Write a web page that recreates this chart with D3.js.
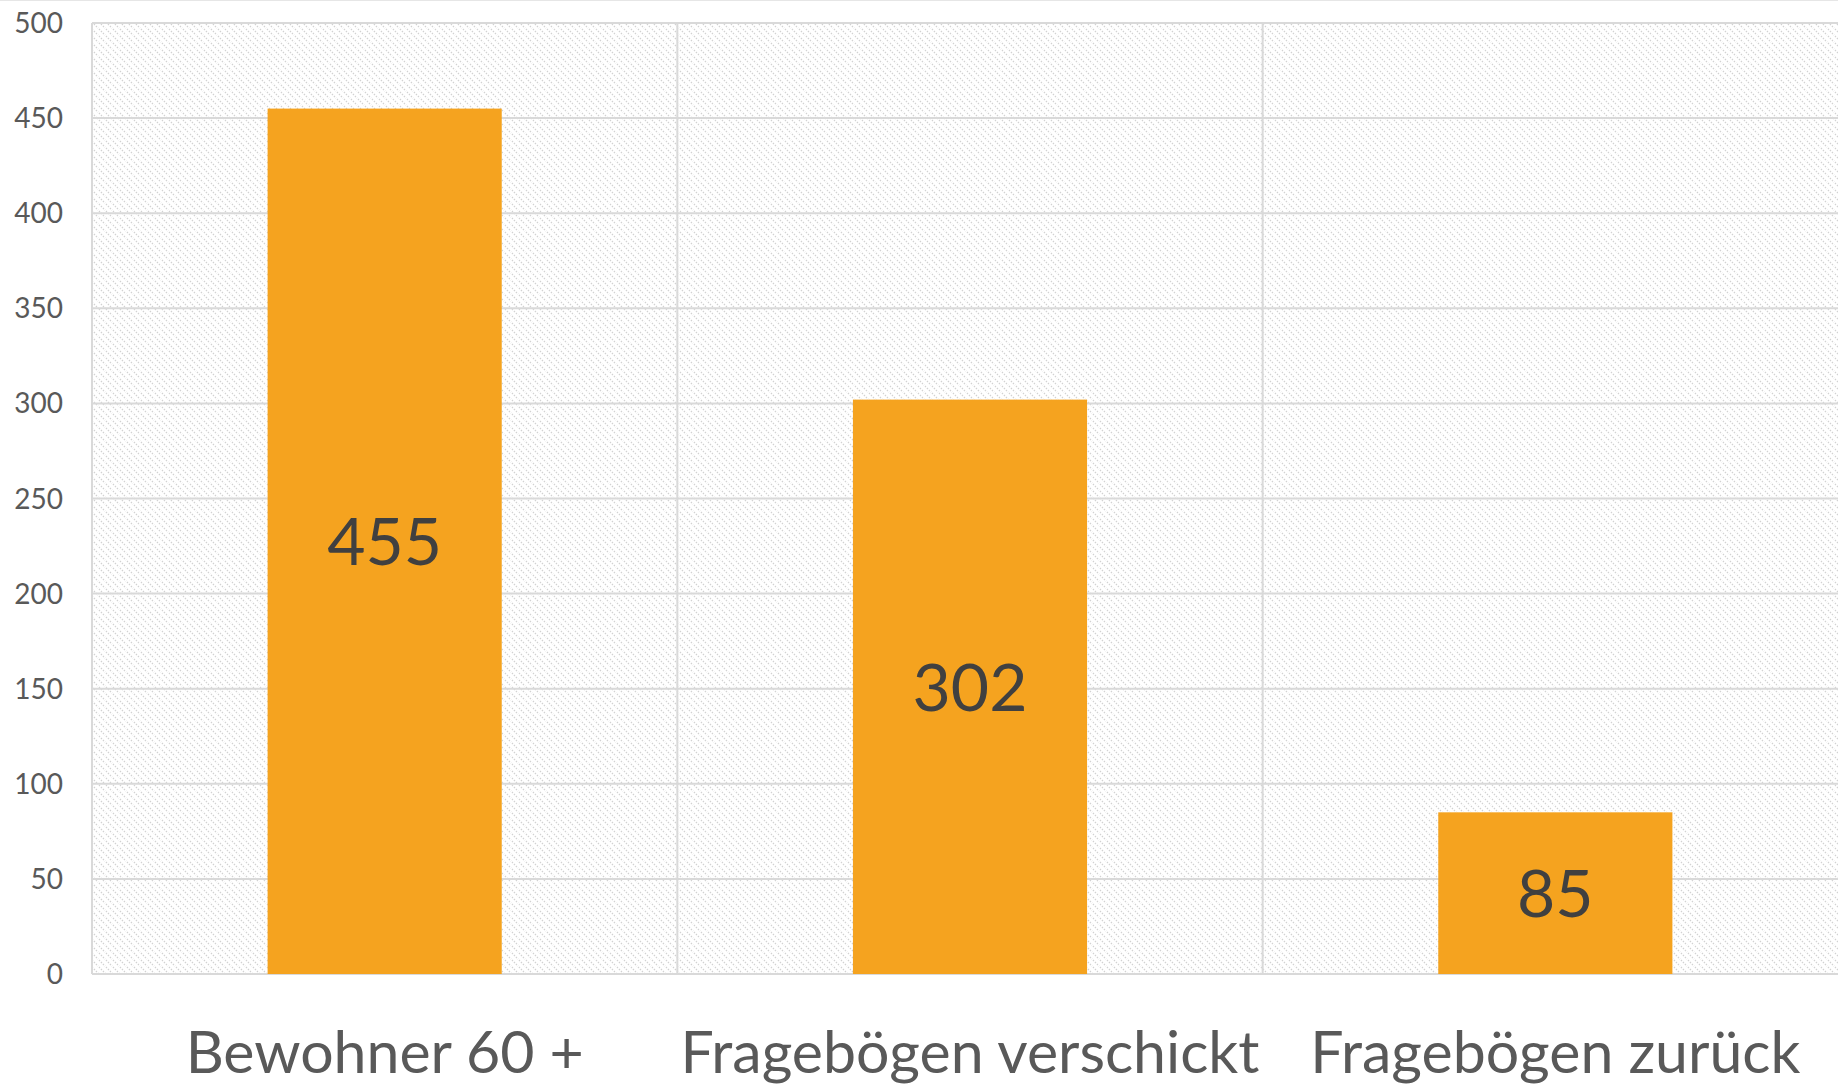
<!DOCTYPE html>
<html>
<head>
<meta charset="utf-8">
<script src="https://cdn.jsdelivr.net/npm/d3@7"></script>
<style>
  body { margin: 0; background: #fff; }
  svg { display: block; font-family: Lato, "Open Sans", sans-serif; }
</style>
</head>
<body>
<div id="chart"></div>
<script>
const categories = ["Bewohner 60 +", "Fragebögen verschickt", "Fragebögen zurück"];
const values = [455, 302, 85];
const yTicks = [0, 50, 100, 150, 200, 250, 300, 350, 400, 450, 500];

const width = 1838, height = 1087;
const margin = { top: 23, right: -10, bottom: 113, left: 92 };

const svg = d3.select("#chart")
  .append("svg")
  .attr("width", width)
  .attr("height", height);

// diagonal hatch (top-left to bottom-right) for the plot area
const defs = svg.append("defs");
const pat = defs.append("pattern")
  .attr("id", "hatch")
  .attr("patternUnits", "userSpaceOnUse")
  .attr("width", 7)
  .attr("height", 7);
pat.append("path")
  .attr("d", "M-1,-1 L8,8 M-1,6 L1,8 M6,-1 L8,1")
  .attr("stroke", "#d2d2d2")
  .attr("stroke-width", 1.3)
  .attr("stroke-dasharray", "1.4,1.4");

const x = d3.scaleBand()
  .domain(categories)
  .range([margin.left, width - margin.right])
  .paddingInner(0.6)
  .paddingOuter(0.3);

const y = d3.scaleLinear()
  .domain([0, 500])
  .range([height - margin.bottom, margin.top]);

// top frame line
svg.append("line")
  .attr("x1", 0).attr("x2", width)
  .attr("y1", 0.5).attr("y2", 0.5)
  .attr("stroke", "#e6e6e6");

svg.append("rect")
  .attr("x", margin.left)
  .attr("y", margin.top)
  .attr("width", width - margin.right - margin.left)
  .attr("height", y(0) - margin.top)
  .attr("fill", "url(#hatch)");

// horizontal gridlines
svg.append("g")
  .selectAll("line")
  .data(yTicks)
  .join("line")
  .attr("x1", margin.left)
  .attr("x2", width - margin.right)
  .attr("y1", d => y(d))
  .attr("y2", d => y(d))
  .attr("stroke", "#d9d9d9")
  .attr("stroke-width", 2);

// vertical gridlines between categories
const step = x.step();
const bounds = d3.range(categories.length + 1).map(i => margin.left + i * step);
svg.append("g")
  .selectAll("line")
  .data(bounds)
  .join("line")
  .attr("x1", d => d)
  .attr("x2", d => d)
  .attr("y1", margin.top)
  .attr("y2", y(0))
  .attr("stroke", "#d9d9d9")
  .attr("stroke-width", 2);

// y axis labels
svg.append("g")
  .selectAll("text")
  .data(yTicks)
  .join("text")
  .attr("x", 63)
  .attr("y", d => y(d))
  .attr("dy", "0.36em")
  .attr("text-anchor", "end")
  .attr("fill", "#595959")
  .attr("font-size", 28)
  .text(d => d);

// bars
svg.append("g")
  .selectAll("rect")
  .data(values)
  .join("rect")
  .attr("x", (d, i) => x(categories[i]))
  .attr("y", d => y(d))
  .attr("width", x.bandwidth())
  .attr("height", d => y(0) - y(d))
  .attr("fill", "#f5a31f");

// value labels
svg.append("g")
  .selectAll("text")
  .data(values)
  .join("text")
  .attr("x", (d, i) => x(categories[i]) + x.bandwidth() / 2)
  .attr("y", d => (y(d) + y(0)) / 2)
  .attr("dy", "0.36em")
  .attr("text-anchor", "middle")
  .attr("fill", "#404040")
  .attr("font-size", 66)
  .text(d => d);

// category labels
svg.append("g")
  .selectAll("text")
  .data(categories)
  .join("text")
  .attr("x", d => x(d) + x.bandwidth() / 2)
  .attr("y", 1073)
  .attr("text-anchor", "middle")
  .attr("fill", "#595959")
  .attr("font-size", 59)
  .text(d => d);
</script>
</body>
</html>
